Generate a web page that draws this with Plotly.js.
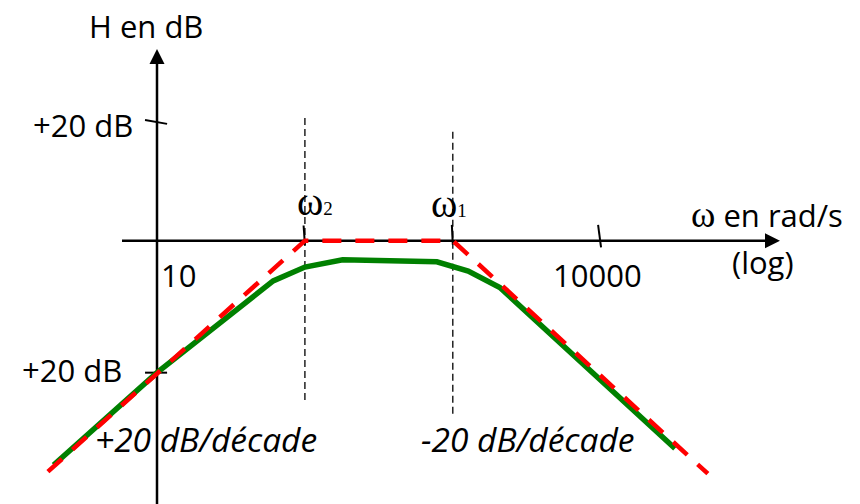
<!DOCTYPE html>
<html>
<head>
<meta charset="utf-8">
<script src="https://cdn.plot.ly/plotly-3.0.1.min.js"></script>
<style>
  html, body { margin: 0; padding: 0; background: #fff; }
  #bode { width: 860px; height: 504px; }
</style>
</head>
<body>
<div id="bode"></div>
<script>
// Band-pass filter: Bode magnitude sketch (asymptotes + real curve)
const omega2 = 100;    // lower cut-off, rad/s
const omega1 = 1000;   // upper cut-off, rad/s

// Asymptotic diagram (red dashed)
const asymW  = [1.83, omega2, omega1, 53000];
const asymDb = [-35, 0, 0, -35.3];

// Real response (green)
const realW  = [2, 10, 61, 100, 180, 780, 1270, 2080, 31800];
const realDb = [-34, -20, -6.1, -4, -2.9, -3.2, -4.6, -7.1, -31.5];

// Axis tick values and their labels
const xTickVals   = [10, 10000];
const xTickLabels = ['10', '10000'];
const yTickVals   = [18, -20];
const yTickLabels = ['+20 dB', '+20 dB'];

// Axes geometry (data units)
const xAxisFrom = 5.8, xAxisTo = 131000, xArrowTip = 162900;
const yAxisFrom = -42, yAxisTo = 27.5, yArrowTip = 29.05;
const yCutTop  = [18.6, 16.5];
const yCutBot  = [-24.6, -26.8];

const L = Math.log10;
const black = '#000000';
const serif = 'Liberation Serif, Times New Roman, serif';
const sans  = 'Open Sans, sans-serif';

const traces = [
  // horizontal axis
  { x: [xAxisFrom, xAxisTo], y: [0, 0], mode: 'lines',
    line: { color: black, width: 2.5 } },
  { x: [xArrowTip], y: [0], mode: 'markers',
    marker: { symbol: 'arrow-right', size: 15, color: black } },
  // vertical axis
  { x: [xTickVals[0], xTickVals[0]], y: [yAxisFrom, yAxisTo], mode: 'lines',
    line: { color: black, width: 2.5 } },
  { x: [xTickVals[0]], y: [yArrowTip], mode: 'markers',
    marker: { symbol: 'arrow-up', size: 15, color: black } },
  // tick marks
  { x: [8.3, 11.7, null, 8.3, 11.7, null, 9600, 10050, null, 98, 100, null, 985, 1000],
    y: [yTickVals[0] + 0.3, yTickVals[0] - 0.3, null, yTickVals[1], yTickVals[1], null,
        2.4, -1.0, null, 2.3, -0.7, null, 2.4, -0.6],
    mode: 'lines', line: { color: black, width: 2 } },
  // cut-off markers (thin dashed verticals)
  { x: [omega2, omega2, null, omega1, omega1],
    y: [yCutTop[0], yCutBot[0], null, yCutTop[1], yCutBot[1]],
    mode: 'lines', line: { color: black, width: 1.3, dash: '7px,4px' } },
  // real curve
  { x: realW, y: realDb, mode: 'lines',
    line: { color: '#008000', width: 5.5 } },
  // asymptotes
  { x: asymW, y: asymDb, mode: 'lines',
    line: { color: '#ff0000', width: 4.5, dash: '19px,14px' } }
];

function label(text, x, y, opts) {
  return Object.assign({
    text: text, x: x, y: y, xref: 'x', yref: 'y',
    showarrow: false, xanchor: 'center', yanchor: 'middle', borderpad: 0,
    font: { family: sans, size: 31, color: black }
  }, opts || {});
}

const omegaFont = { family: serif, size: 40, color: black };
const italic    = { family: sans, size: 33.5, color: black, style: 'italic' };
const cutLabel  = idx => 'ω<span style="font-size:19px">' + idx + '</span>';

const annotations = [
  label('H en dB', 0.926, 32.6),
  label(yTickLabels[0], 0.8445, 17.5, { xanchor: 'right' }),
  label(yTickLabels[1], 0.770, -19.6, { xanchor: 'right' }),
  label(xTickLabels[0], L(xTickVals[0]) + 0.02, -5.2, { xanchor: 'left' }),
  label(xTickLabels[1], L(xTickVals[1]) - 0.025, -5.2),
  label(cutLabel(2), 1.937, 5.9, { xanchor: 'left', font: omegaFont }),
  label(cutLabel(1), 2.843, 5.6, { xanchor: 'left', font: omegaFont }),
  label('<span style="font-family:Liberation Serif,serif;font-size:37px">ω</span> en rad/s',
        4.606, 3.9, { xanchor: 'left' }),
  label('(log)', 5.097, -3.3),
  label('+20 dB/décade', 1.331, -30.0, { font: italic }),
  label('-20 dB/décade', 3.508, -30.0, { font: italic })
];

const layout = {
  width: 860, height: 504,
  margin: { l: 0, r: 0, t: 0, b: 0, pad: 0 },
  paper_bgcolor: '#ffffff', plot_bgcolor: '#ffffff',
  showlegend: false,
  xaxis: { type: 'log', range: [-0.0615, 5.753], visible: false, fixedrange: true },
  yaxis: { range: [-39.9, 36.47], visible: false, fixedrange: true },
  annotations: annotations
};

Plotly.newPlot('bode', traces, layout, { staticPlot: true, displayModeBar: false });
</script>
</body>
</html>
